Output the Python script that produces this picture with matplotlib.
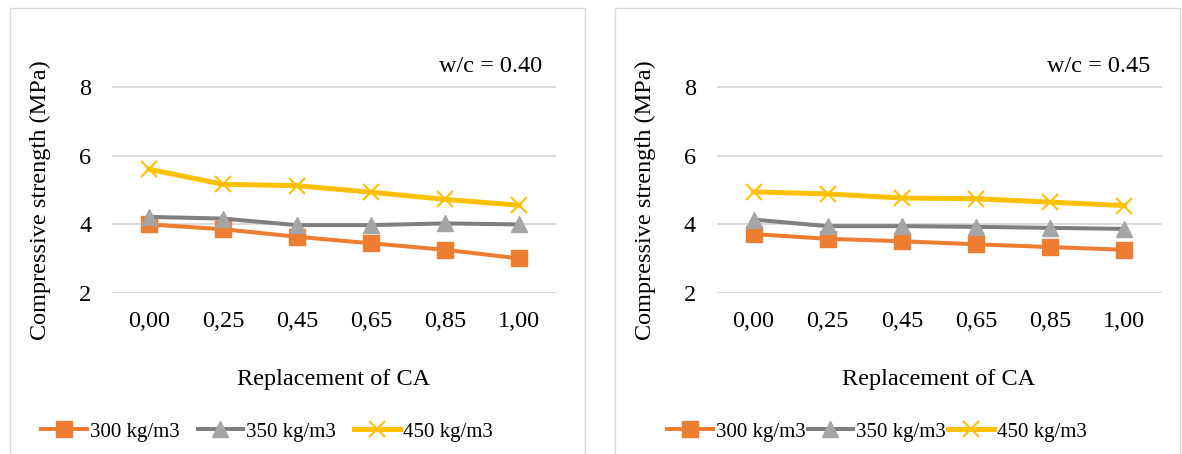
import matplotlib
matplotlib.use("Agg")
import matplotlib.pyplot as plt
from matplotlib.patches import Rectangle

plt.rcParams['font.family'] = ['Liberation Serif', 'DejaVu Serif']

categories = ["0,00", "0,25", "0,45", "0,65", "0,85", "1,00"]
series_names = ["300 kg/m3", "350 kg/m3", "450 kg/m3"]

left_300 = [4.00, 3.86, 3.64, 3.45, 3.26, 3.01]
left_350 = [4.22, 4.17, 3.98, 3.98, 4.03, 4.00]
left_450 = [5.61, 5.17, 5.13, 4.94, 4.73, 4.56]

right_300 = [3.72, 3.58, 3.51, 3.42, 3.34, 3.26]
right_350 = [4.14, 3.95, 3.95, 3.93, 3.90, 3.87]
right_450 = [4.95, 4.89, 4.77, 4.75, 4.65, 4.55]

titles = ["w/c = 0.40", "w/c = 0.45"]
yticks = [2, 4, 6, 8]

W, H = 1182, 454
fig = plt.figure(figsize=(W / 100, H / 100), dpi=100)

def fx(px):
    return px / W

def fy(py):
    return 1 - py / H

styles = [
    dict(color="#ED7D31", lw=2.9, marker="s", ms=11, mfc="#ED7D31", mec="#ED7D31"),
    dict(color="#7F7F7F", lw=2.9, marker="^", ms=12, mfc="#A5A5A5", mec="#A5A5A5"),
    dict(color="#FFC000", lw=3.6, marker="x", ms=11, mew=1.5, mfc="#FFC000", mec="#FFC000"),
]

panels = [
    dict(data=[left_300, left_350, left_450], ax_left=112, ax_right=556,
         box=(10, 585), title=titles[0], title_x=542, ylabel_x=40, leg_x=267, colsp=0.85),
    dict(data=[right_300, right_350, right_450], ax_left=716.5, ax_right=1161.5,
         box=(615, 1180), title=titles[1], title_x=1150, ylabel_x=645, leg_x=877, colsp=0.1),
]

fs = 17.5
lfs = 15
top_px, bot_px = 53, 293

for p in panels:
    x0, x1 = p["box"]
    fig.patches.append(Rectangle((fx(x0), fy(470)), fx(x1 - x0), (470 - 8) / H,
                                 transform=fig.transFigure, fill=False,
                                 edgecolor="#D9D9D9", lw=1.0))
    ax = fig.add_axes([fx(p["ax_left"]), fy(bot_px), fx(p["ax_right"] - p["ax_left"]),
                       (bot_px - top_px) / H])
    xs = list(range(len(categories)))
    handles = []
    for vals, st, name in zip(p["data"], styles, series_names):
        h, = ax.plot(xs, vals, label=name, zorder=3, **st)
        handles.append(h)
    ax.set_xlim(-0.5, len(categories) - 0.5)
    ax.set_ylim(2, 9)
    ax.set_yticks(yticks)
    ax.set_xticks(xs)
    ax.set_xticklabels(categories, fontsize=fs)
    ax.set_yticklabels([str(t) for t in yticks], fontsize=fs)
    ax.grid(axis="y", color="#D9D9D9", lw=1.3, zorder=0)
    for s in ax.spines.values():
        s.set_visible(False)
    ax.tick_params(axis="x", length=0, pad=13)
    ax.tick_params(axis="y", length=0, pad=15)
    ax.set_facecolor("none")
    fig.text(fx(p["title_x"]), fy(67), p["title"], ha="right", va="center", fontsize=fs)
    fig.text(fx(p["ylabel_x"]), fy(200), "Compressive strength (MPa)", rotation=90,
             ha="center", va="center", fontsize=fs)
    fig.text(fx((p["ax_left"] + p["ax_right"]) / 2), fy(379), "Replacement of CA",
             ha="center", va="center", fontsize=fs)
    fig.legend(handles=handles, loc="center", bbox_to_anchor=(fx(p["leg_x"]), fy(432)),
               ncol=3, frameon=False, fontsize=lfs, handlelength=2.2, handletextpad=0.15,
               columnspacing=p["colsp"])

fig.savefig("out.png", dpi=100)
